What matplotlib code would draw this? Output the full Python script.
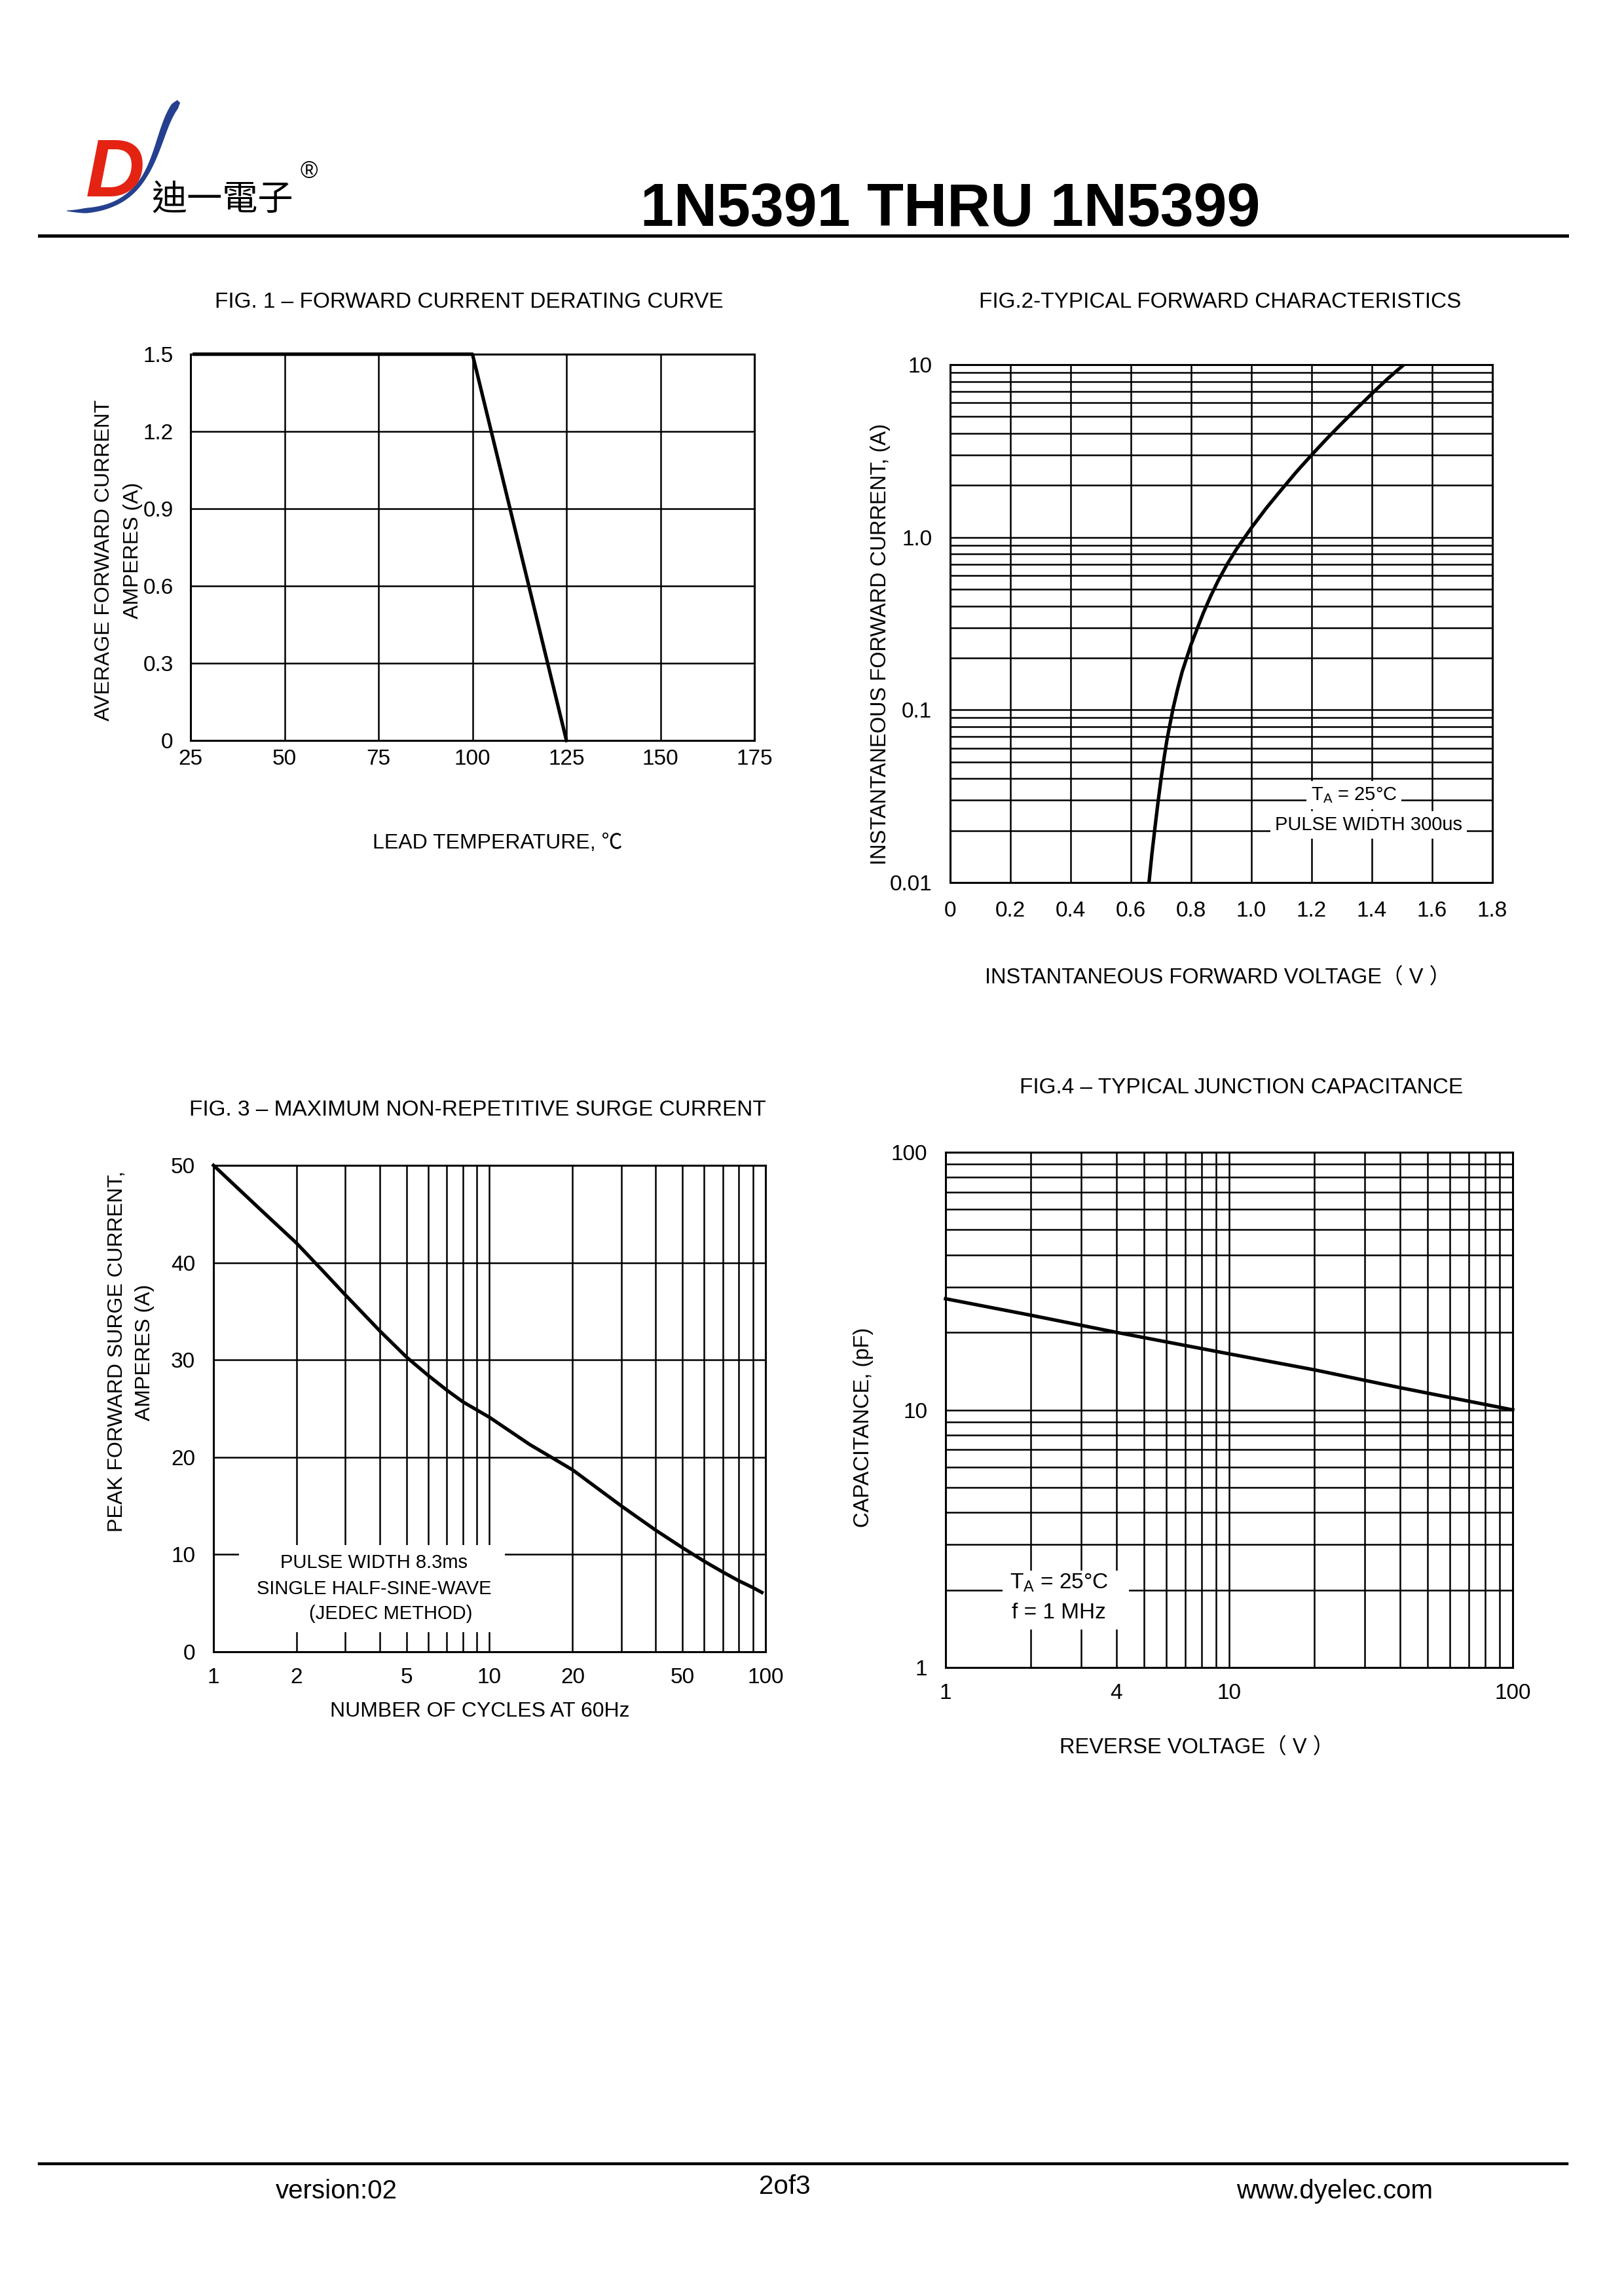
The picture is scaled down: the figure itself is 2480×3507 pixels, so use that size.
import numpy as np
import matplotlib.pyplot as plt
from matplotlib.patches import Rectangle, Polygon
from matplotlib.ticker import NullFormatter

plt.rcParams['font.family'] = 'Liberation Sans'
plt.rcParams['mathtext.default'] = 'regular'

W, H = 2480, 3507
MIX = ['Liberation Sans', 'Noto Sans CJK SC']

# ---- data ----
# Fig.1 forward current derating
derate_temp = [26, 100, 125]
derate_amp = [1.5, 1.5, 0.0]
temp_ticks = [25, 50, 75, 100, 125, 150, 175]
amp_ticks = [0, 0.3, 0.6, 0.9, 1.2, 1.5]
amp_labels = ['0', '0.3', '0.6', '0.9', '1.2', '1.5']

# Fig.2 typical forward characteristics
vf = [0.66, 0.67, 0.68, 0.69, 0.70, 0.71, 0.72, 0.74, 0.755, 0.77, 0.80, 0.84,
      0.865, 0.89, 0.92, 0.95, 1.0, 1.05, 1.1, 1.15, 1.2, 1.25, 1.3, 1.35,
      1.4, 1.45, 1.506]
i_f = [0.01, 0.0148, 0.0209, 0.0292, 0.0398, 0.0525, 0.0676, 0.102, 0.132,
       0.166, 0.240, 0.363, 0.457, 0.562, 0.70, 0.851, 1.135, 1.48, 1.89, 2.40,
       3.0, 3.72, 4.57, 5.58, 6.79, 8.22, 10.0]
vf_ticks = [0, 0.2, 0.4, 0.6, 0.8, 1.0, 1.2, 1.4, 1.6, 1.8]
vf_labels = ['0', '0.2', '0.4', '0.6', '0.8', '1.0', '1.2', '1.4', '1.6', '1.8']
if_ticks = [0.01, 0.1, 1, 10]
if_labels = ['0.01', '0.1', '1.0', '10']

# Fig.3 surge current
cycles = [1, 1.5, 2, 2.5, 3, 4, 5, 6, 7, 8, 10, 14, 20, 30, 40, 50, 60, 70,
          80, 90, 97]
surge = [50, 45.3, 42.0, 39.1, 36.7, 33.0, 30.3, 28.4, 26.9, 25.7, 24.1, 21.3,
         18.7, 15.0, 12.5, 10.7, 9.3, 8.2, 7.3, 6.6, 6.1]
cyc_ticks = [1, 2, 5, 10, 20, 50, 100]
cyc_labels = ['1', '2', '5', '10', '20', '50', '100']
surge_ticks = [0, 10, 20, 30, 40, 50]

# Fig.4 junction capacitance
vr = [1, 2, 4, 10, 20, 40, 100]
cap = [27, 23.3, 20, 16.5, 14.3, 12.2, 10]
vr_ticks = [1, 4, 10, 100]
vr_labels = ['1', '4', '10', '100']
cap_ticks = [1, 10, 100]
cap_labels = ['1', '10', '100']

fig = plt.figure(figsize=(24.8, 35.07), dpi=100)


def fx(x):
    return x / W


def fy(y):
    return 1 - y / H


def ftext(x, y, s, size, **kw):
    fig.text(fx(x), fy(y), s, fontsize=size, ha=kw.pop('ha', 'center'),
             va=kw.pop('va', 'center'), **kw)


def make_ax(l, t, r, b):
    ax = fig.add_axes([fx(l), fy(b), (r - l) / W, (b - t) / H])
    for s in ax.spines.values():
        s.set_linewidth(2.2)
        s.set_zorder(5)
    ax.tick_params(which='both', length=0, labelsize=24)
    return ax


GRID = dict(color='black', linewidth=1.8)

# ---------------- header ----------------
# logo swoosh
t = np.linspace(0, 1, 80)
P = np.array([[273, 155], [230, 200], [250, 330], [102, 322]], float)
B = ((1 - t) ** 3)[:, None] * P[0] + (3 * (1 - t) ** 2 * t)[:, None] * P[1] \
    + (3 * (1 - t) * t ** 2)[:, None] * P[2] + (t ** 3)[:, None] * P[3]
dB = (3 * (1 - t) ** 2)[:, None] * (P[1] - P[0]) + (6 * (1 - t) * t)[:, None] * (P[2] - P[1]) \
    + (3 * t ** 2)[:, None] * (P[3] - P[2])
nrm = np.column_stack([-dB[:, 1], dB[:, 0]]) / np.hypot(dB[:, 0], dB[:, 1])[:, None]
wid = np.interp(t, [0, 0.05, 0.3, 0.55, 0.8, 0.93, 1], [6, 12, 10, 7, 7, 8, 1]) / 2
side1 = B + nrm * wid[:, None]
side2 = B - nrm * wid[:, None]
pts = np.vstack([side1, side2[::-1]])
fig.add_artist(Polygon(np.column_stack([pts[:, 0] / W, 1 - pts[:, 1] / H]),
                       closed=True, transform=fig.transFigure,
                       facecolor='#24408e', edgecolor='none'))
ftext(176, 300, 'D', 90, va='baseline', color='#e42313', fontweight='bold',
      fontstyle='italic')
ftext(340, 305, '迪一電子', 39, family='Noto Sans CJK TC')
ftext(472, 263, '®', 26)

ftext(1451, 345, '1N5391 THRU 1N5399', 66, va='baseline', fontweight='bold')
fig.add_artist(plt.Line2D([fx(60), fx(2393)], [fy(360), fy(360)],
                          color='black', linewidth=3.6, transform=fig.transFigure))

# ---------------- FIG 1 ----------------
ax1 = make_ax(291, 541, 1152, 1131)
ax1.set_xlim(25, 175)
ax1.set_ylim(0, 1.5)
ax1.set_xticks(temp_ticks)
ax1.set_yticks(amp_ticks)
ax1.set_yticklabels(amp_labels)
ax1.grid(True, **GRID)
ax1.plot(derate_temp, derate_amp, color='black', linewidth=3.8, clip_on=False, zorder=4)
ax1.tick_params(axis='y', pad=19)
ax1.tick_params(axis='x', pad=9)
ftext(716, 461, 'FIG. 1 – FORWARD CURRENT DERATING CURVE', 24)
ftext(159, 856, 'AVERAGE FORWARD CURRENT', 23, rotation=90)
ftext(203, 841, 'AMPERES (A)', 23, rotation=90)
ftext(760, 1288, 'LEAD TEMPERATURE, ℃', 23, family=MIX)

# ---------------- FIG 2 ----------------
ax2 = make_ax(1451, 557, 2279, 1348)
ax2.set_yscale('log')
ax2.set_xlim(0, 1.8)
ax2.set_ylim(0.01, 10)
ax2.set_xticks(vf_ticks)
ax2.set_xticklabels(vf_labels)
ax2.set_yticks(if_ticks)
ax2.set_yticklabels(if_labels)
ax2.yaxis.set_minor_formatter(NullFormatter())
ax2.grid(True, which='major', **GRID)
ax2.grid(True, which='minor', axis='y', **GRID)
ax2.plot(vf, i_f, color='black', linewidth=3.8, zorder=4)
ax2.tick_params(axis='y', pad=20)
ax2.tick_params(axis='x', pad=20)
box = dict(facecolor='white', edgecolor='none', pad=5)
ax2.text(1.34, 0.032, 'T$_{A}$ = 25°C', fontsize=21, ha='center', va='center',
         bbox=box, zorder=3)
ax2.text(1.39, 0.0215, 'PULSE WIDTH 300us', fontsize=21, ha='center', va='center',
         bbox=box, zorder=3)
ftext(1863, 461, 'FIG.2-TYPICAL FORWARD CHARACTERISTICS', 24)
ftext(1344, 984, 'INSTANTANEOUS FORWARD CURRENT, (A)', 23.5, rotation=90)
ftext(1860, 1494, 'INSTANTANEOUS FORWARD VOLTAGE（ V ）', 23.5, family=MIX)

# ---------------- FIG 3 ----------------
ax3 = make_ax(326, 1780, 1169, 2523)
ax3.set_xscale('log')
ax3.set_xlim(1, 100)
ax3.set_ylim(0, 50)
ax3.set_xticks(cyc_ticks)
ax3.set_xticklabels(cyc_labels)
ax3.xaxis.set_minor_formatter(NullFormatter())
ax3.set_yticks(surge_ticks)
ax3.grid(True, which='major', **GRID)
ax3.grid(True, which='minor', axis='x', **GRID)
ax3.add_patch(Rectangle((1.24, 2.0), 11.4 - 1.24, 9.0, facecolor='white',
                        edgecolor='none', zorder=2))
ax3.plot(cycles, surge, color='black', linewidth=3.8, zorder=4, clip_on=False)
ax3.tick_params(axis='y', pad=20)
ax3.tick_params(axis='x', pad=17)
ftext(571, 2387, 'PULSE WIDTH 8.3ms', 21)
ftext(571, 2427, 'SINGLE HALF-SINE-WAVE', 21)
ftext(597, 2465, '(JEDEC METHOD)', 21)
ftext(729, 1695, 'FIG. 3 – MAXIMUM NON-REPETITIVE SURGE CURRENT', 24)
ftext(179, 2064, 'PEAK FORWARD SURGE CURRENT,', 23, rotation=90)
ftext(221, 2066, 'AMPERES (A)', 23, rotation=90)
ftext(733, 2614, 'NUMBER OF CYCLES AT 60Hz', 23)

# ---------------- FIG 4 ----------------
ax4 = make_ax(1444, 1760, 2310, 2547)
ax4.set_xscale('log')
ax4.set_yscale('log')
ax4.set_xlim(1, 100)
ax4.set_ylim(1, 100)
ax4.set_xticks(vr_ticks)
ax4.set_xticklabels(vr_labels)
ax4.set_yticks(cap_ticks)
ax4.set_yticklabels(cap_labels)
ax4.xaxis.set_minor_formatter(NullFormatter())
ax4.yaxis.set_minor_formatter(NullFormatter())
ax4.grid(True, which='both', **GRID)
ax4.add_patch(Rectangle((1.59, 1.40), 4.43 - 1.59, 2.38 - 1.40, facecolor='white',
                        edgecolor='none', zorder=2))
ax4.plot(vr, cap, color='black', linewidth=3.8, zorder=4, clip_on=False)
ax4.tick_params(axis='y', pad=20)
ax4.tick_params(axis='x', pad=17)
ftext(1617, 2418, 'T$_{A}$ = 25°C', 24)
ftext(1617, 2463, 'f = 1 MHz', 24)
ftext(1896, 1661, 'FIG.4 – TYPICAL JUNCTION CAPACITANCE', 24)
ftext(1319, 2180, 'CAPACITANCE, (pF)', 23.5, rotation=90, family=MIX)
ftext(1828, 2670, 'REVERSE VOLTAGE（ V ）', 23.5, family=MIX)

# ---------------- footer ----------------
fig.add_artist(plt.Line2D([fx(60), fx(2393)], [fy(3305), fy(3305)],
                          color='black', linewidth=3.2, transform=fig.transFigure))
ftext(514, 3347, 'version:02', 29)
ftext(1198, 3340, '2of3', 29)
ftext(2038, 3347, 'www.dyelec.com', 29)

fig.savefig('out.png', dpi=100, facecolor='white')
